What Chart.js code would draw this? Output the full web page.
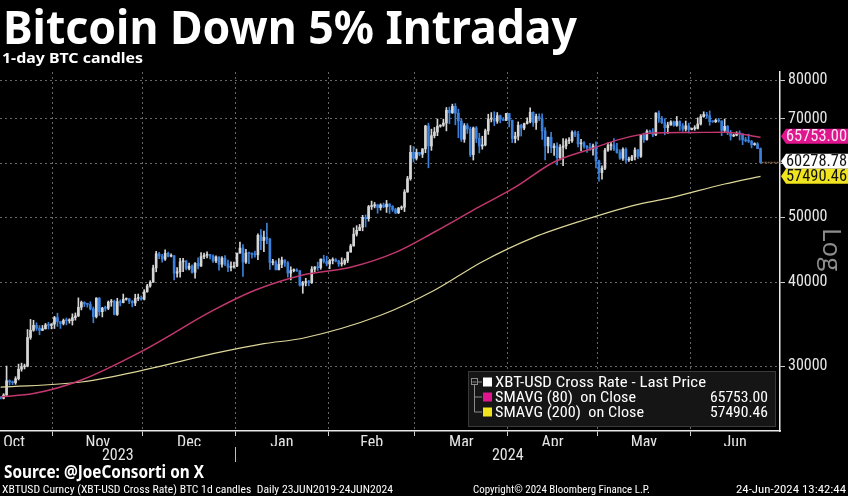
<!DOCTYPE html>
<html>
<head>
<meta charset="utf-8">
<script src="https://cdn.jsdelivr.net/npm/chart.js@4.4.1/dist/chart.umd.min.js"></script>
<style>
  html, body { margin:0; padding:0; background:#000; }
  #wrap { position:relative; width:848px; height:496px; overflow:hidden; background:#000; }
  #c { position:absolute; left:0; top:0; }
  .txt { position:absolute; left:0; top:0; white-space:nowrap; line-height:1; transform-origin:0 0; color:#fff; }
</style>
</head>
<body>
<div id="wrap">
  <canvas id="c" width="848" height="496"></canvas>
  <span class="txt" id="title">Bitcoin Down 5% Intraday</span>
  <span class="txt" id="subtitle">1-day BTC candles</span>
  <span class="txt" id="source">Source: @JoeConsorti on X</span>
  <span class="txt" id="foot1">XBTUSD Curncy (XBT-USD Cross Rate) BTC 1d candles&nbsp; Daily 23JUN2019-24JUN2024</span>
  <span class="txt" id="foot2">Copyright© 2024 Bloomberg Finance L.P.</span>
  <span class="txt" id="foot3">24-Jun-2024 13:42:44</span>
</div>
<script>
// ---------------- DATA ----------------
const firstCandleDate = '2023-10-14';   // one candle per day from here
const opens = [
  26900,26860,27160,28520,28410,28330,28720,29680,29920,29990,33090,33920,34500,34160,33910,34090,34540,34480,
  34640,35420,34940,34720,35080,35040,35050,35420,35620,36700,37310,37130,37060,36500,35540,37870,36150,36600,36580,37360,37450,35810,37420,37290,37720,37790,37450,37240,37830,37860,
  37720,38690,39470,39980,41990,44080,43750,43290,44170,43720,43790,41240,41450,42890,43020,41930,42260,41370,42660,42270,43660,43870,43990,43740,43020,43610,42520,43440,42590,42070,42140,
  42280,44180,44960,42850,44180,44160,43970,43930,46970,46120,46650,46340,42780,42850,41730,42510,43150,42740,41260,41620,41660,41580,39560,39890,40080,39940,41820,42120,42040,43300,42950,
  42580,43080,43190,43000,42580,42660,43090,44340,45290,47150,47770,48290,49960,49730,51830,51940,52160,51660,52120,51780,52280,51850,51300,50730,51570,51730,54480,57040,62430,
  61170,62390,62030,63170,68330,63800,66100,66920,68300,68500,69020,72120,71480,73080,71400,69500,65300,68390,67610,61940,67870,65490,63780,64040,67220,69960,69990,69460,70780,69890,69650,
  71330,69700,65450,65980,68500,67840,68900,69360,71620,69140,70590,70060,67190,63820,65740,63420,63790,61280,63470,63820,64940,64950,66840,66410,64280,64500,63770,63460,63120,63840,
  60640,58250,59120,62890,63890,64030,63160,62340,61190,63070,60800,60830,61460,62930,61560,66240,65230,67050,66940,66270,71450,70140,69120,67930,68540,69290,68500,69390,68360,67600,68360,
  67490,67710,67750,68800,70540,71080,70790,69340,69310,69650,69510,67320,68240,66750,66010,66190,66640,66490,65160,64960,64840,64100,64260,63210
];
const highs = [
  26990,27290,30000,28610,28500,28920,30200,30300,30200,34000,35200,35100,34800,34460,34480,34720,34850,34700,
  35570,35960,34950,35250,35370,35280,35880,35990,37900,37490,37400,37220,37400,36740,37920,37930,36700,36850,37500,37700,37620,37850,37650,38400,37890,37820,37560,38380,38400,38150,
  38980,39700,40200,42400,44450,44300,44000,44700,44360,44060,43800,42050,43400,43420,43080,42700,42430,42760,43480,44270,44200,44370,44000,43930,43780,43610,43680,43800,43130,42900,42860,
  44180,45900,45500,44770,44350,44230,44500,47200,47900,47650,48970,46500,43240,43080,43380,43580,43190,42930,42160,41860,41880,41640,40110,40530,40260,42190,42200,42840,43300,43860,43730,
  43250,43480,43380,43120,43490,43360,44350,45560,48170,48540,48760,50300,50370,52040,52820,52570,52180,52350,52480,52940,52360,52010,51530,51680,51950,54930,57500,63900,63680,
  63140,62430,63230,68500,69000,67600,67990,69990,68620,69950,72800,72900,73640,73780,72390,70040,68900,68900,68100,68100,68200,66650,65970,67600,71150,71550,71750,71550,70950,70340,71370,
  71330,69700,66900,69290,68730,69000,70280,72720,71740,71170,71260,71220,67930,65800,66870,64350,64470,64090,65450,65370,65660,67210,67200,67070,65290,64790,63900,64370,64200,64700,
  60800,59600,63300,64500,64600,65450,64360,62990,63400,63400,61400,61800,63400,63100,66400,66700,67420,67400,67700,71500,71950,70620,70050,69220,69580,69500,70600,69560,68900,69500,69000,
  67860,68400,70260,71050,71740,71600,71950,69550,69900,70150,69560,69990,68450,67300,66400,66990,67200,66500,65730,66440,65050,64500,64540,63370
];
const lows = [
  26800,26800,27120,28100,28140,28180,28600,29470,29700,29920,32880,33800,33900,33400,33880,34050,34060,34080,
  34120,34370,34130,34540,34550,34750,34530,35120,35550,36370,36780,36710,36360,34800,35380,35690,35500,36220,36400,36820,35750,35680,36870,37250,37600,37150,36750,36900,37530,37600,
  37630,38650,39300,39980,41440,43350,42850,43100,43600,43600,40300,40680,40700,41450,41700,41730,41260,40550,41850,42210,43350,43450,43330,42790,42770,41660,42110,42330,41450,41560,41970,
  42190,44180,40800,42640,42630,43420,43580,43220,44700,44400,45650,41800,42450,41720,41720,42050,42200,40700,40300,41440,41500,39450,38500,39490,39510,39820,41420,41640,41800,42700,42310,
  41880,42580,42880,42220,42260,42440,42770,44330,45250,46850,47730,47700,48340,49300,51320,51600,50660,51200,51620,50800,50630,50960,50560,50600,51290,50950,54450,56720,60400,
  60800,61700,61320,62360,59200,62850,65600,66100,68040,68230,67190,68850,71340,68600,65630,64780,64600,66600,61500,60800,64550,62300,63100,63820,66390,69280,68400,68950,69080,69600,69600,
  68100,64550,64500,65090,66000,67450,68780,69060,68210,67520,69580,65250,60800,62280,62330,61760,59800,60850,59650,63140,64310,64570,65880,63620,62800,63300,62400,62820,61800,59190,
  56550,56940,58800,62600,62900,62800,62270,60920,60700,60200,60500,60650,60800,61100,61350,64600,65100,66630,65850,66070,69200,68900,66300,66620,68520,68250,68250,67300,67120,67150,66700,
  67400,67330,67620,68550,70400,70150,68500,69200,69150,69230,66100,66900,66330,65100,65880,66050,65100,64100,64700,64550,63400,63950,63230,60200
];
const closes = [
  26860,27160,28520,28410,28330,28720,29680,29920,29990,33090,33920,34500,34160,33910,34090,34540,34480,34640,
  35420,34940,34720,35080,35040,35050,35420,35620,36700,37310,37130,37060,36500,35540,37870,36150,36600,36580,37360,37450,35810,37420,37290,37720,37790,37450,37240,37830,37860,37720,
  38690,39470,39980,41990,44080,43750,43290,44170,43720,43790,41240,41450,42890,43020,41930,42260,41370,42660,42270,43660,43870,43990,43740,43020,43610,42520,43440,42590,42070,42140,42280,
  44180,44960,42850,44180,44160,43970,43930,46970,46120,46650,46340,42780,42850,41730,42510,43150,42740,41260,41620,41660,41580,39560,39890,40080,39940,41820,42120,42040,43300,42950,42580,
  43080,43190,43000,42580,42660,43090,44340,45290,47150,47770,48290,49960,49730,51830,51940,52160,51660,52120,51780,52280,51850,51300,50730,51570,51730,54480,57040,62430,61170,
  62390,62030,63170,68330,63800,66100,66920,68300,68500,69020,72120,71480,73080,71400,69500,65300,68390,67610,61940,67870,65490,63780,64040,67220,69960,69990,69460,70780,69890,69650,71330,
  69700,65450,65980,68500,67840,68900,69360,71620,69140,70590,70060,67190,63820,65740,63420,63790,61280,63470,63820,64940,64950,66840,66410,64280,64500,63770,63460,63120,63840,60640,
  58250,59120,62890,63890,64030,63160,62340,61190,63070,60800,60830,61460,62930,61560,66240,65230,67050,66940,66270,71450,70140,69120,67930,68540,69290,68500,69390,68360,67600,68360,67490,
  67710,67750,68800,70540,71080,70790,69340,69310,69650,69510,67320,68240,66750,66010,66190,66640,66490,65160,64960,64840,64100,64260,63210,60278.78
];

const sma80Dates  = ['2023-10-14','2023-10-25','2023-11-10','2023-12-01','2023-12-24','2024-01-07','2024-01-23','2024-02-08','2024-02-23','2024-03-07','2024-03-20','2024-04-03','2024-04-16','2024-04-29','2024-05-07','2024-05-19','2024-05-30','2024-06-12','2024-06-24'];
const sma80Values = [27000,27300,28600,31700,36300,38900,41000,42100,44300,47500,51200,55400,60400,63300,65100,66700,66800,66900,65753.00];

const sma200Dates  = ['2023-10-14','2023-11-10','2023-12-01','2023-12-24','2024-01-10','2024-01-23','2024-02-18','2024-03-07','2024-03-23','2024-04-09','2024-04-26','2024-05-13','2024-05-24','2024-06-12','2024-06-24'];
const sma200Values = [27900,28400,29600,31300,32400,33000,35700,38900,42900,46600,49500,52100,53300,56000,57490.46];

const monthNames  = ['Oct','Nov','Dec','Jan','Feb','Mar','Apr','May','Jun'];
const monthStarts = ['2023-10-01','2023-11-01','2023-12-01','2024-01-01','2024-02-01','2024-03-01','2024-04-01','2024-05-01','2024-06-01','2024-07-01'];
const yearNames   = ['', '2023', '2024'];
const yTickValues = [30000,40000,50000,60000,70000,80000];
const yHiddenTickLabels = [60000];

const legendLabels = ['XBT-USD Cross Rate - Last Price','SMAVG (80)  on Close','SMAVG (200)  on Close'];
const legendValues = ['', '65753.00', '57490.46'];
const lastPriceLabel = '60278.78';

// ---------------- HELPERS ----------------
const BASE = Date.UTC(2023, 9, 1);
function dayOf(s){ const [y,m,d] = s.split('-').map(Number); return (Date.UTC(y,m-1,d) - BASE) / 86400000; }
const X_MIN = 13.3, X_MAX = dayOf('2024-07-01');
const Y_MIN = 24010, Y_MAX = 82225;
const firstDay = dayOf(firstCandleDate);
const NARROW = "'Liberation Sans Narrow','Roboto Condensed','DejaVu Sans Condensed','Liberation Sans',sans-serif";

const UP = '#d6d6d6', DOWN = '#3b80da';
const candleColors = closes.map((c,i) => c >= opens[i] ? UP : DOWN);
const bodies = closes.map((c,i) => ({x: firstDay + i + 0.5, y: [opens[i], c]}));
const wicks  = closes.map((c,i) => ({x: firstDay + i + 0.5, y: [lows[i], highs[i]]}));
const sma80  = sma80Dates.map((d,i) => ({x: dayOf(d) + 0.5, y: sma80Values[i]}));
const sma200 = sma200Dates.map((d,i) => ({x: dayOf(d) + 0.5, y: sma200Values[i]}));

const boundaries = monthStarts.slice(1, -1).map(dayOf);
const monthMids = monthNames.map((n,i) => (dayOf(monthStarts[i]) + dayOf(monthStarts[i+1])) / 2);
const yearBoundary = dayOf('2024-01-01');
const yearTicks = [X_MIN, (X_MIN + yearBoundary) / 2, (yearBoundary + X_MAX) / 2];

function fitText(ctx, text, x, y, font, targetW, align){
  ctx.save();
  ctx.font = font;
  const w = ctx.measureText(text).width;
  const s = targetW ? targetW / w : 1;
  const x0 = align === 'right' ? x - w * s : x;
  ctx.translate(x0, y);
  ctx.scale(s, 1);
  ctx.textAlign = 'left';
  ctx.fillText(text, 0, 0);
  ctx.restore();
}

const overlay = {
  id: 'overlay',
  afterDraw(chart){
    const {ctx, chartArea: ca, scales} = chart;
    const x = scales.x, y = scales.y, xy = scales.xy;
    ctx.save();
    // year separator
    const sx = Math.round(x.getPixelForValue(yearBoundary)) + 0.5;
    ctx.strokeStyle = '#bdbdbd'; ctx.lineWidth = 1;
    ctx.beginPath(); ctx.moveTo(sx, xy.top + 1); ctx.lineTo(sx, xy.top + 16); ctx.stroke();

    // last price line
    const lastX = x.getPixelForValue(firstDay + closes.length - 0.5);
    const lastY = y.getPixelForValue(closes[closes.length - 1]);
    ctx.strokeStyle = '#8c6446'; ctx.setLineDash([2,1]); ctx.lineWidth = 1.5;
    ctx.beginPath(); ctx.moveTo(lastX + 1, lastY); ctx.lineTo(ca.right, lastY); ctx.stroke();
    ctx.setLineDash([]);

    // "Log" label
    ctx.save();
    ctx.translate(830, (y.getPixelForValue(50000) + y.getPixelForValue(40000)) / 2);
    ctx.rotate(Math.PI / 2);
    ctx.font = "26px 'Open Sans', sans-serif";
    ctx.fillStyle = '#8d8d8d';
    ctx.textAlign = 'center'; ctx.textBaseline = 'middle';
    ctx.fillText('Log', 0, 0);
    ctx.restore();

    // value tags on the right axis
    const tagFont = "16px " + NARROW;
    const yYel = y.getPixelForValue(sma200Values[sma200Values.length - 1]);
    const yWhite = Math.min(lastY, yYel - 15);
    const yMag = Math.min(y.getPixelForValue(sma80Values[sma80Values.length - 1]), yWhite - 15) - 1;
    const tags = [
      [yMag, '#e0168f', '#fbe3f2', legendValues[1]],
      [yWhite, '#ffffff', '#111111', lastPriceLabel],
      [yYel, '#f0e41e', '#111111', legendValues[2]]
    ];
    tags.forEach(([yc, bg, fg, t]) => {
      const h = 15, xl = ca.right + 1, xb = ca.right + 6, xr = 848;
      ctx.fillStyle = bg;
      ctx.beginPath();
      ctx.moveTo(xl, yc); ctx.lineTo(xb, yc - h/2); ctx.lineTo(xr, yc - h/2);
      ctx.lineTo(xr, yc + h/2); ctx.lineTo(xb, yc + h/2); ctx.closePath(); ctx.fill();
      ctx.fillStyle = fg; ctx.textBaseline = 'middle';
      fitText(ctx, t, ca.right + 6, yc + 1, tagFont, 61);
    });

    // legend box
    const lx = ca.right - 312, ly = ca.bottom - 60, lw = 308, lh = 56;
    ctx.fillStyle = '#151515'; ctx.fillRect(lx, ly, lw, lh);
    ctx.strokeStyle = '#3a3a3a'; ctx.lineWidth = 1;
    ctx.strokeRect(lx + 0.5, ly + 0.5, lw - 1, lh - 1);
    const rows = [ly + 11, ly + 26, ly + 41];
    const sqColors = ['#ffffff', '#e0168f', '#f0e41e'];
    const widths = [211, 141, 149];
    ctx.strokeStyle = '#8a8a8a';
    ctx.strokeRect(lx + 3.5, rows[0] - 3.5, 6, 6);
    ctx.beginPath();
    ctx.moveTo(lx + 4.5, rows[0]); ctx.lineTo(lx + 8.5, rows[0]);
    ctx.moveTo(lx + 6.5, rows[0] + 3); ctx.lineTo(lx + 6.5, rows[2]);
    ctx.moveTo(lx + 9.5, rows[0]); ctx.lineTo(lx + 14, rows[0]);
    ctx.moveTo(lx + 6.5, rows[1]); ctx.lineTo(lx + 14, rows[1]);
    ctx.moveTo(lx + 6.5, rows[2]); ctx.lineTo(lx + 14, rows[2]);
    ctx.stroke();
    const lf = "15px " + NARROW;
    rows.forEach((ry, i) => {
      ctx.fillStyle = sqColors[i];
      ctx.fillRect(lx + 15, ry - 4.5, 9, 9);
      ctx.fillStyle = '#ffffff'; ctx.textBaseline = 'middle';
      fitText(ctx, legendLabels[i], lx + 27, ry + 1, lf, widths[i]);
      if (legendValues[i]) fitText(ctx, legendValues[i], lx + 300, ry + 1, lf, 58, 'right');
    });
    ctx.restore();
  }
};

new Chart(document.getElementById('c'), {
  type: 'bar',
  data: {
    datasets: [
      { type: 'line', label: legendLabels[1], data: sma80, borderColor: '#c2376e', borderWidth: 1.5,
        pointRadius: 0, cubicInterpolationMode: 'monotone', order: 0 },
      { type: 'line', label: legendLabels[2], data: sma200, borderColor: '#ddd79a', borderWidth: 1.2,
        pointRadius: 0, cubicInterpolationMode: 'monotone', order: 0 },
      { type: 'bar', label: 'body', data: bodies, backgroundColor: candleColors, barThickness: 2,
        minBarLength: 1, grouped: false, order: 1 },
      { type: 'bar', label: 'wick', data: wicks, backgroundColor: candleColors, barThickness: 1,
        grouped: false, order: 2 }
    ]
  },
  options: {
    responsive: false, animation: false, devicePixelRatio: 1,
    layout: { padding: { left: 0, right: 0, top: 72, bottom: 32 } },
    plugins: { legend: { display: false }, tooltip: { enabled: false }, title: { display: false } },
    scales: {
      x: {
        type: 'linear', position: 'bottom', min: X_MIN, max: X_MAX, offset: false, weight: 0,
        afterBuildTicks: s => { s.ticks = boundaries.map(v => ({ value: v })); },
        ticks: { display: false },
        grid: { offset: false, color: '#666666', lineWidth: 1, drawTicks: true, tickLength: 5, tickColor: '#cfcfcf' },
        border: { display: true, color: '#e8e8e8', width: 1.5, dash: [2, 3] },
        afterFit: s => { s.height = 2; }
      },
      xm: {
        type: 'linear', position: 'bottom', min: X_MIN, max: X_MAX, offset: false, weight: 1,
        afterBuildTicks: s => { s.ticks = monthMids.map(v => ({ value: Math.max(v, X_MIN + 4.7) })); },
        ticks: { autoSkip: false, maxRotation: 0, padding: 0, color: '#e6e6e6',
                 font: { family: NARROW, size: 16 }, callback: (v, i) => monthNames[i] },
        grid: { display: false, drawTicks: false }, border: { display: false },
        afterFit: s => { s.height = 13; }
      },
      xy: {
        type: 'linear', position: 'bottom', min: X_MIN, max: X_MAX, offset: false, weight: 2,
        afterBuildTicks: s => { s.ticks = yearTicks.map(v => ({ value: v })); },
        ticks: { autoSkip: false, maxRotation: 0, padding: 0, color: '#e6e6e6',
                 font: { family: NARROW, size: 16 }, callback: (v, i) => yearNames[i] },
        grid: { display: false, drawTicks: false }, border: { display: false },
        afterFit: s => { s.height = 18; }
      },
      y: {
        type: 'logarithmic', position: 'right', min: Y_MIN, max: Y_MAX,
        afterBuildTicks: s => { s.ticks = yTickValues.map(v => ({ value: v })); },
        ticks: { autoSkip: false, padding: 3, color: '#e6e6e6', font: { family: NARROW, size: 16 },
                 callback: v => yHiddenTickLabels.includes(v) ? '' : String(v) },
        grid: { color: '#666666', lineWidth: 1, drawTicks: true, tickLength: 5, tickColor: '#cfcfcf' },
        border: { display: true, color: '#e8e8e8', width: 1.5, dash: [2, 3] },
        afterFit: s => { s.width = 68; }
      }
    }
  },
  plugins: [overlay]
});

// ---------------- HTML TEXT PLACEMENT ----------------
function place(id, font, x, baseline, width){
  const el = document.getElementById(id);
  el.style.font = font; el.style.lineHeight = '1';
  const probe = document.createElement('span');
  probe.style.cssText = 'display:inline-block;width:0;height:0;vertical-align:baseline;';
  el.appendChild(probe);
  const off = probe.getBoundingClientRect().top - el.getBoundingClientRect().top;
  el.removeChild(probe);
  const w = el.getBoundingClientRect().width;
  el.style.left = x + 'px';
  el.style.top = (baseline - off) + 'px';
  if (width) el.style.transform = 'scaleX(' + (width / w) + ')';
}
place('title', "700 46px 'Noto Sans', 'Open Sans', sans-serif", 3, 44, 574);
place('subtitle', "700 15px 'Noto Sans', 'Open Sans', sans-serif", 2, 63, 141);
place('source', "700 17px 'Noto Sans', 'Open Sans', sans-serif", 4, 478, 200);
place('foot1', "11px " + NARROW, 2, 493, 391);
place('foot2', "11px " + NARROW, 473, 493, 177);
place('foot3', "11px " + NARROW, 736, 493, 110);
</script>
</body>
</html>
